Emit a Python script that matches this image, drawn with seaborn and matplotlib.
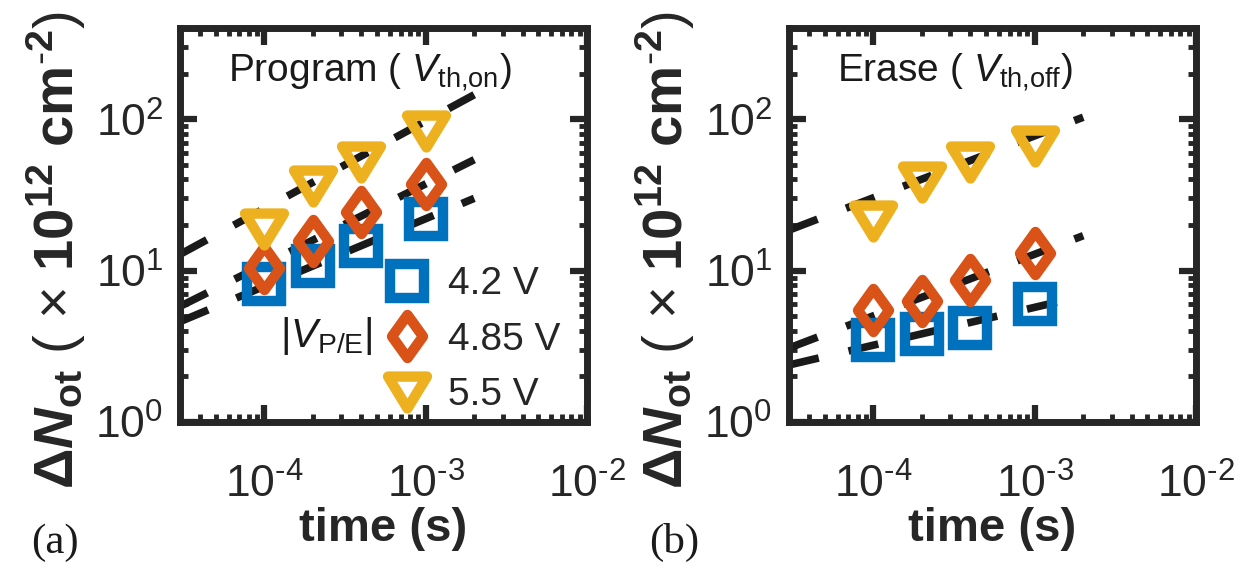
import matplotlib
matplotlib.use("Agg")
import matplotlib.pyplot as plt
from matplotlib.markers import MarkerStyle
from matplotlib.path import Path
from matplotlib.ticker import LogLocator, NullFormatter, FuncFormatter
import numpy as np
import seaborn as sns

# pulse width (s)
t = [1e-4, 2e-4, 4e-4, 1e-3]

# program (V_th,on), dN_ot in 1e12 cm^-2
prog_42 = [8.1, 10.7, 14.5, 22.0]
prog_485 = [10.4, 15.6, 24.3, 37.1]
prog_55 = [18.8, 36.0, 52.0, 83.0]

# erase (V_th,off)
erase_42 = [3.5, 3.8, 4.2, 6.0]
erase_485 = [5.5, 6.3, 8.7, 13.0]
erase_55 = [21.2, 38.7, 52.0, 66.6]

# power-law fit lines (end points)
fit_t = [3e-5, 2e-3]
prog_fit_42 = [4.6, 30.0]
prog_fit_485 = [5.8, 54.0]
prog_fit_55 = [12.8, 145.0]
erase_fit_42 = [2.38, 6.8]
erase_fit_485 = [3.08, 17.0]
erase_fit_55 = [18.5, 103.0]

labels = ["4.2 V", "4.85 V", "5.5 V"]
colors = ["#0072BD", "#D95319", "#EDB120"]

sns.set_theme(style="ticks")
plt.rcParams["font.family"] = ["Liberation Sans", "DejaVu Sans"]
plt.rcParams["mathtext.fontset"] = "custom"
plt.rcParams["mathtext.rm"] = "Liberation Sans"
plt.rcParams["mathtext.it"] = "Liberation Sans:italic"
plt.rcParams["mathtext.bf"] = "Liberation Sans:bold"
plt.rcParams["mathtext.bfit"] = "Liberation Sans:italic:bold"
plt.rcParams["axes.unicode_minus"] = False

dark = "#262626"

# matlab-ish markers
sq = MarkerStyle("s")
dia = MarkerStyle(Path([(0, 1), (0.72, 0), (0, -1), (-0.72, 0), (0, 1)], closed=True), joinstyle="miter")
tri = MarkerStyle(Path([(-1, 0.82), (1, 0.82), (0, -0.82), (-1, 0.82)], closed=True), joinstyle="miter")
markers = [sq, dia, tri]
msizes = [24.5, 31.0, 28.0]


def pow10(v, pos):
    e = int(round(np.log10(v)))
    sign = r"\text{-}" if e < 0 else ""
    return r"$10^{%s%d}$" % (sign, abs(e))


fig = plt.figure(figsize=(12.5, 5.71), dpi=100)
ax1 = fig.add_axes([180 / 1250, 1 - 422 / 571, 407 / 1250, 394 / 571])
ax2 = fig.add_axes([789 / 1250, 1 - 422 / 571, 407 / 1250, 394 / 571])


def panel(ax, series, fits, title):
    for f in fits:
        sns.lineplot(x=fit_t, y=f, ax=ax, color="k", lw=5.5,
                     linestyle=(0, (4, 4)), zorder=1, legend=False)
    handles = []
    for vals, m, ms, c, lab in zip(series, markers, msizes, colors, labels):
        sns.lineplot(x=t, y=vals, ax=ax, marker=m, markersize=ms,
                     markerfacecolor="none", markeredgecolor=c,
                     markeredgewidth=7.5, linestyle="none", color=c,
                     zorder=3, legend=False)
        handles.append(ax.lines[-1])
    ax.set_xscale("log")
    ax.set_yscale("log")
    ax.set_xlim(3e-5, 1e-2)
    ax.set_ylim(1, 400)
    ax.xaxis.set_major_locator(LogLocator(base=10, numticks=10))
    ax.xaxis.set_minor_locator(LogLocator(base=10, subs=np.arange(2, 10), numticks=20))
    ax.yaxis.set_minor_locator(LogLocator(base=10, subs=np.arange(2, 10), numticks=20))
    ax.xaxis.set_major_formatter(FuncFormatter(pow10))
    ax.yaxis.set_major_formatter(FuncFormatter(pow10))
    ax.xaxis.set_minor_formatter(NullFormatter())
    ax.yaxis.set_minor_formatter(NullFormatter())
    ax.tick_params(which="both", direction="in", top=True, right=True,
                   color=dark, labelcolor=dark, labelsize=32)
    ax.tick_params(which="major", length=12, width=4.5)
    ax.tick_params(which="minor", length=6, width=3.5)
    ax.tick_params(axis="x", which="major", pad=30)
    ax.tick_params(axis="y", which="major", pad=12)
    for s in ax.spines.values():
        s.set_linewidth(5)
        s.set_color(dark)
    ax.set_xlabel("time (s)", fontsize=34, fontweight="bold", color=dark)
    ax.xaxis.set_label_coords(0.5, -0.215)
    ax.set_ylabel(r"$\mathbf{\Delta}\mathbfit{N}_{\mathbf{ot}}$ ( $\times$ $\mathbf{10^{12}\ cm^{\text{-}2}}$)",
                  fontsize=40.5, color=dark)
    ax.yaxis.set_label_coords(-0.225, 0.437)
    ax.text(0.118, 0.864, title, transform=ax.transAxes, fontsize=28,
            color="k", ha="left", va="baseline")
    return handles


h = panel(ax1, [prog_42, prog_485, prog_55],
          [prog_fit_42, prog_fit_485, prog_fit_55],
          r"Program ( $\mathit{V}_{\mathrm{th{,}on}}$)")
panel(ax2, [erase_42, erase_485, erase_55],
      [erase_fit_42, erase_fit_485, erase_fit_55],
      r"Erase ( $\mathit{V}_{\mathrm{th{,}off}}$)")

leg = ax1.legend(h, labels, loc="upper left", bbox_to_anchor=(0.506, 0.395),
                 frameon=False, fontsize=28, handlelength=1.1,
                 handletextpad=0.5, labelspacing=0.5, borderpad=0,
                 borderaxespad=0, numpoints=1)
ax1.text(0.474, 0.19, r"$|\mathit{V}_{\mathrm{P/E}}|$", transform=ax1.transAxes,
         fontsize=29, color="k", ha="right", va="baseline")

fig.text(0.044, 0.05, "(a)", family="Liberation Serif", fontsize=31,
         ha="center", va="center", color="k")
fig.text(0.539, 0.05, "(b)", family="Liberation Serif", fontsize=31,
         ha="center", va="center", color="k")

fig.savefig("out.png", dpi=100)
